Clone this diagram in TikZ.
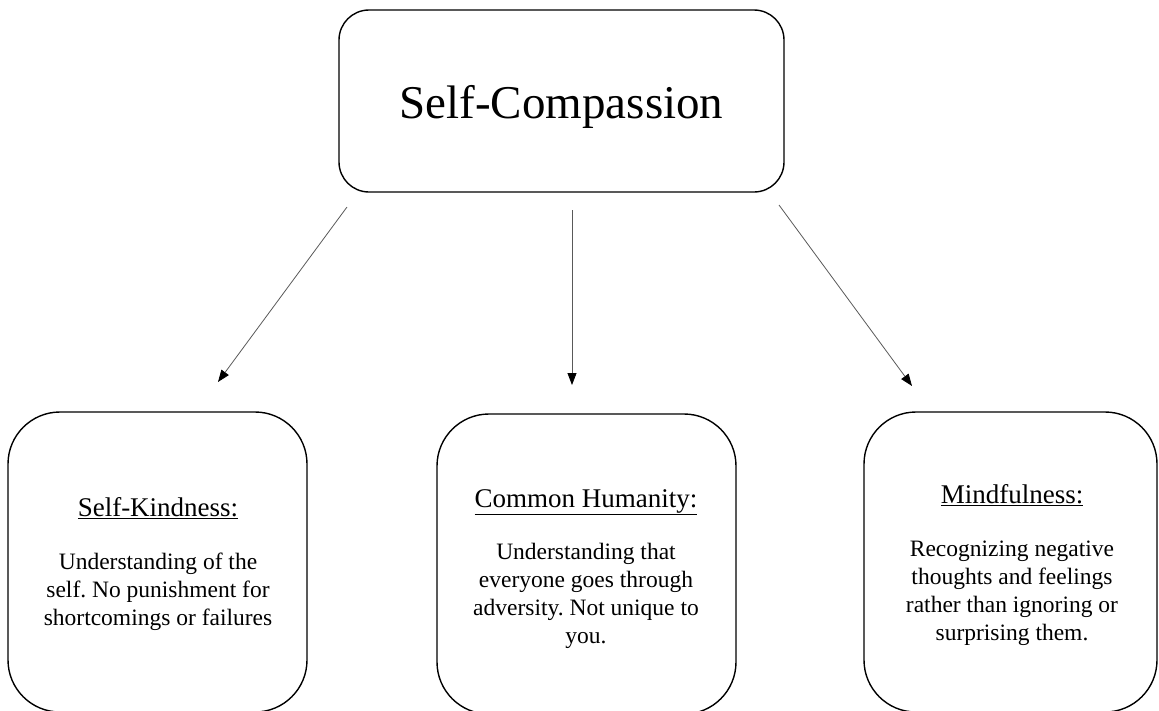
\documentclass[tikz,border=0pt]{standalone}
\usepackage{fontspec}
\setmainfont{Liberation Serif}
\usetikzlibrary{arrows.meta}
\frenchspacing
\tikzset{
  bigbox/.style={draw=black, line width=1.4pt, rounded corners=30pt, minimum width=445pt, minimum height=182pt, inner sep=0pt},
  subbox/.style={draw=black, line width=1.4pt, rounded corners=52pt, minimum height=300pt, inner sep=0pt},
  titletxt/.style={anchor=base, inner sep=0pt, font=\fontsize{47}{56}\selectfont},
  headtxt/.style={anchor=base, inner sep=0pt, font=\fontsize{27}{32}\selectfont},
  bodytxt/.style={anchor=north, inner sep=0pt, align=center, font=\fontsize{23.5}{28}\selectfont},
  conn/.style={draw=black!65, line width=0.8pt, -{Triangle[length=12pt,width=9pt,fill=black,color=black]}}
}
\begin{document}
\begin{tikzpicture}[x=1pt,y=-1pt]
\useasboundingbox (0,0) rectangle (1159,710);
\node[bigbox] (top) at (561.5,101) {};
\node[titletxt] (toptxt) at (561.5,118) {Self-Compassion};
\node[subbox, minimum width=299pt] (left) at (157.5,562) {};
\node[subbox, minimum width=299pt] (mid) at (586.5,564) {};
\node[subbox, minimum width=293pt] (right) at (1010.5,562) {};
\node[headtxt] (lh) at (158,516) {\underline{Self-Kindness:}};
\node[bodytxt] (lb) at (158,553) {Understanding of the\\self. No punishment for\\shortcomings or failures};
\node[headtxt] (mh) at (586,507) {\underline{Common Humanity:}};
\node[bodytxt] (mb) at (586,543) {Understanding that\\everyone goes through\\adversity. Not unique to\\you.};
\node[headtxt] (rh) at (1012,503) {\underline{Mindfulness:}};
\node[bodytxt] (rb) at (1012,541) {Recognizing negative\\thoughts and feelings\\rather than ignoring or\\surprising them.};
\coordinate (s1) at (347,207);
\coordinate (e1) at (218,382);
\coordinate (s2) at (572,210);
\coordinate (e2) at (572,385);
\coordinate (s3) at (779,205);
\coordinate (e3) at (912,386);
\draw[conn] (s1) -- (e1);
\draw[conn] (s2) -- (e2);
\draw[conn] (s3) -- (e3);
\end{tikzpicture}
\end{document}
